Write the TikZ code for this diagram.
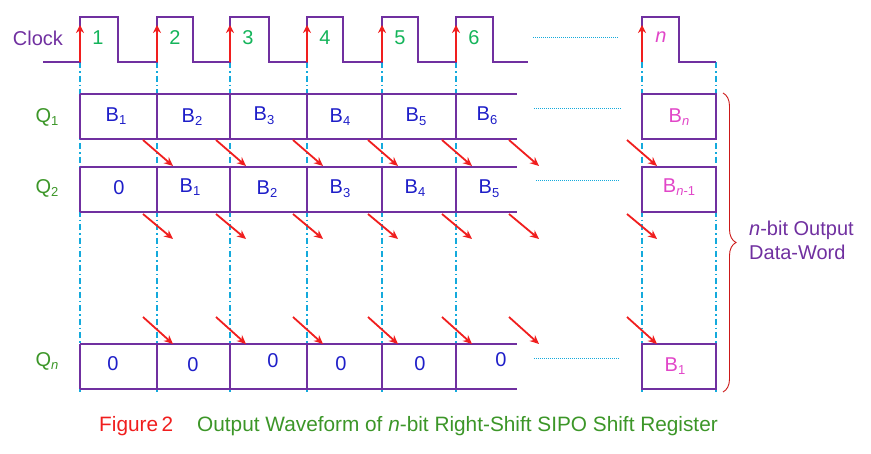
\documentclass[tikz,border=0pt]{standalone}
\usepackage{fontspec}
\setmainfont{Liberation Sans}
\usetikzlibrary{arrows.meta}
\usetikzlibrary{decorations.pathreplacing}
\definecolor{wavepurple}{RGB}{112,48,160}
\definecolor{gridcyan}{RGB}{20,170,220}
\definecolor{shiftred}{RGB}{240,30,30}
\definecolor{bitblue}{RGB}{30,30,200}
\definecolor{lastpink}{RGB}{225,70,200}
\definecolor{qgreen}{RGB}{60,150,40}
\definecolor{numgreen}{RGB}{20,180,90}
\newcommand{\bsub}[1]{\raisebox{-0.35ex}{\fontsize{13}{13}\selectfont #1}}

\begin{document}
\begin{tikzpicture}[x=1pt, y=-1pt, font=\fontsize{20}{24}\selectfont,
  wave/.style={wavepurple, line width=1.2pt},
  guide/.style={gridcyan, line width=1.2pt, dash pattern=on 6pt off 3pt on 1.5pt off 3pt},
  gap/.style={gridcyan, line width=1pt, dash pattern=on 1pt off 1pt},
  shiftarrow/.style={shiftred, line width=1.8pt, -{Stealth[length=9pt,width=8pt]}},
  clkarrow/.style={shiftred, line width=1.5pt, -{Stealth[length=8pt,width=8pt]}},
  bit/.style={bitblue, inner sep=0pt},
  lastbit/.style={lastpink, inner sep=0pt},
  qlabel/.style={qgreen, inner sep=0pt}]

\useasboundingbox (0,0) rectangle (871,453);

\foreach \x in {80,157,230,307,382,456,642,716}
  \draw[guide] (\x,62) -- (\x,393);

\draw[wave] (43,62) -- (80,62) -- (80,17) -- (118,17) -- (118,62) -- (157,62) -- (157,17) -- (193,17) -- (193,62)
  -- (230,62) -- (230,17) -- (269,17) -- (269,62) -- (307,62) -- (307,17) -- (343,17) -- (343,62)
  -- (382,62) -- (382,17) -- (418,17) -- (418,62) -- (456,62) -- (456,17) -- (493,17) -- (493,62) -- (528,62);
\draw[wave] (642,62) -- (642,17) -- (679,17) -- (679,62) -- (716,62);

\foreach \y in {94,167,344} {
  \draw[wave] (80,\y) -- (517,\y) (80,\y+45) -- (517,\y+45);
  \foreach \x in {80,157,230,307,382,456}
    \draw[wave] (\x,\y) -- (\x,\y+45);
  \draw[wave] (642,\y) rectangle (716,\y+45);
}

\draw[gap] (533,37) -- (619,37);
\draw[gap] (534,108) -- (621,108);
\draw[gap] (536,180) -- (619,180);
\draw[gap] (534,358) -- (620,358);

\foreach \e [count=\i] in {80,157,230,307,382,456} {
  \draw[clkarrow] (\e,62) -- (\e,25);
  \node[numgreen, inner sep=0pt] (clk\i) at (\e+18,38) {\i};
}
\draw[clkarrow] (642,62) -- (642,25);
\node[lastpink, inner sep=0pt] (clkn) at (661,37) {\textit{n}};

\foreach \e in {157,230,307,382,456,523,641} {
  \draw[shiftarrow] (\e-14,140) -- (\e+16,166);
  \draw[shiftarrow] (\e-14,214) -- (\e+16,239);
  \draw[shiftarrow] (\e-14,317) -- (\e+16,344);
}

\node[wavepurple, inner sep=0pt] (clock) at (38,38) {Clock};
\node[qlabel] (q1) at (47,117) {Q\bsub{1}};
\node[qlabel] (q2) at (47,188) {Q\bsub{2}};
\node[qlabel] (qn) at (47,361) {Q\bsub{\textit{n}}};

\node[bit] (a1) at (116,116) {B\bsub{1}};
\node[bit] (a2) at (192,117) {B\bsub{2}};
\node[bit] (a3) at (264,116) {B\bsub{3}};
\node[bit] (a4) at (340,117) {B\bsub{4}};
\node[bit] (a5) at (416,117) {B\bsub{5}};
\node[bit] (a6) at (487,116) {B\bsub{6}};
\node[lastbit] (an) at (679,117) {B\bsub{\textit{n}}};

\node[bit] (b1) at (119,188) {0};
\node[bit] (b2) at (190,187) {B\bsub{1}};
\node[bit] (b3) at (267,189) {B\bsub{2}};
\node[bit] (b4) at (340,189) {B\bsub{3}};
\node[bit] (b5) at (415,188) {B\bsub{4}};
\node[bit] (b6) at (489,189) {B\bsub{5}};
\node[lastbit] (bn) at (679,187) {B\bsub{\textit{n}-1}};

\node[bit] (c1) at (113,364) {0};
\node[bit] (c2) at (193,365) {0};
\node[bit] (c3) at (273,361) {0};
\node[bit] (c4) at (341,364) {0};
\node[bit] (c5) at (420,364) {0};
\node[bit] (c6) at (501,360) {0};
\node[lastbit] (cn) at (675,366) {B\bsub{1}};

\draw[shiftred!85!black, line width=0.9pt, decorate, decoration={brace, amplitude=13pt}]
  (723,93) -- (723,392);
\node[wavepurple, anchor=west, align=left, inner sep=0pt] (word) at (749,240)
  {\textit{n}-bit Output\\Data-Word};

\node[shiftred, anchor=west, inner sep=0pt, font=\fontsize{20.8}{24}\selectfont] (fig) at (99,426) {Figure\,2};
\node[qgreen, anchor=west, inner sep=0pt, font=\fontsize{20.8}{24}\selectfont] (title) at (197,426)
  {Output Waveform of \textit{n}-bit Right-Shift SIPO Shift Register};

\end{tikzpicture}
\end{document}
